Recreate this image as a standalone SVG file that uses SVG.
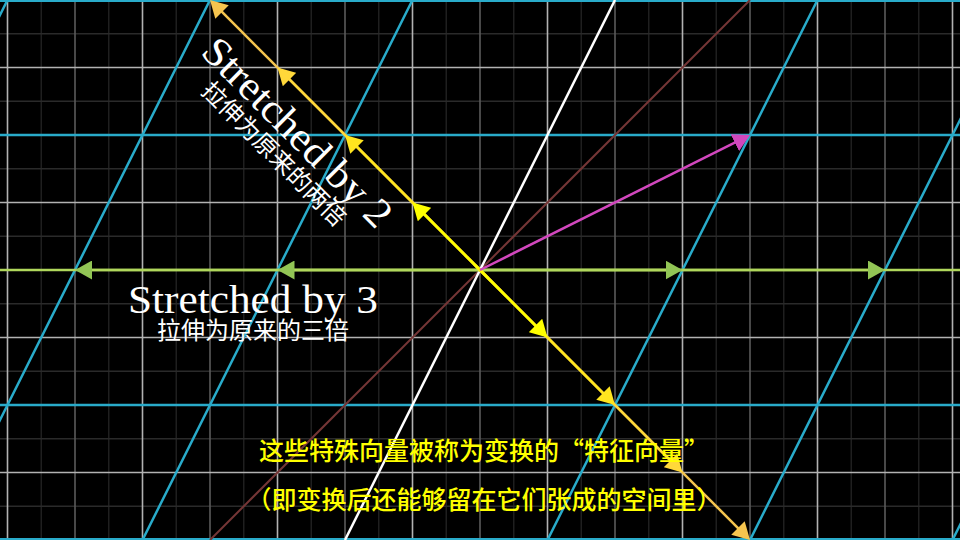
<svg xmlns="http://www.w3.org/2000/svg" width="960" height="540" viewBox="0 0 960 540">
<style>
.bg{fill:#000}
.half{stroke:#1f1f1f;stroke-width:1.5;fill:none}
.halfh{stroke:#2a2a2a;stroke-width:1.5;fill:none}
.med{stroke:#5a5a5a;stroke-width:1.6;fill:none}
.light{stroke:#b2b2b2;stroke-width:1.6;fill:none}
.tgrid{stroke:#29ABCA;stroke-width:2.5;fill:none}
.jaxis{stroke:#ffffff;stroke-width:2.5;fill:none}
.span{stroke:#753636;stroke-width:2;fill:none}
.xaxis{stroke:#B0D75C;stroke-width:2.5;fill:none}
.vec{stroke-width:2.5;fill:none}
.latex{font-family:"Liberation Serif","DejaVu Serif",serif;font-size:41px;fill:#fff}
.cjkw{font-family:"Noto Sans CJK SC",sans-serif;font-size:24px;fill:#fff}
.cjky{font-family:"Noto Sans CJK SC",sans-serif;font-size:25px;font-weight:500;fill:#FFFF00}
</style>
<defs>
<marker id="hY1" markerUnits="userSpaceOnUse" viewBox="0 0 17 19" markerWidth="17" markerHeight="19" refX="5" refY="9.5" orient="auto"><path d="M0,0 L17,9.5 L0,19 z" fill="#FFFF00"/></marker>
<marker id="hY2" markerUnits="userSpaceOnUse" viewBox="0 0 17 19" markerWidth="17" markerHeight="19" refX="5" refY="9.5" orient="auto"><path d="M0,0 L17,9.5 L0,19 z" fill="#FFE51F"/></marker>
<marker id="hY3" markerUnits="userSpaceOnUse" viewBox="0 0 17 19" markerWidth="17" markerHeight="19" refX="5" refY="9.5" orient="auto"><path d="M0,0 L17,9.5 L0,19 z" fill="#FFD83A"/></marker>
<marker id="hY4" markerUnits="userSpaceOnUse" viewBox="0 0 17 19" markerWidth="17" markerHeight="19" refX="5" refY="9.5" orient="auto"><path d="M0,0 L17,9.5 L0,19 z" fill="#F5C54F"/></marker>
<marker id="hG" markerUnits="userSpaceOnUse" viewBox="0 0 17 19" markerWidth="17" markerHeight="19" refX="5" refY="9.5" orient="auto"><path d="M0,0 L17,9.5 L0,19 z" fill="#92C555"/></marker>
<marker id="hP" markerUnits="userSpaceOnUse" viewBox="0 0 17 19" markerWidth="17" markerHeight="19" refX="5" refY="9.5" orient="auto"><path d="M0,0 L17,9.5 L0,19 z" fill="#D147BD"/></marker>
</defs>
<rect class="bg" x="0" y="0" width="960" height="540"/>
<g id="background-grid">
<path class="half" d="M41.25,0V540M108.75,0V540M176.25,0V540M243.75,0V540M311.25,0V540M378.75,0V540M446.25,0V540M513.75,0V540M581.25,0V540M648.75,0V540M716.25,0V540M783.75,0V540M851.25,0V540M918.75,0V540"/>
<path class="halfh" d="M0,33.75H960M0,101.25H960M0,168.75H960M0,236.25H960M0,303.75H960M0,371.25H960M0,438.75H960M0,506.25H960"/>
<path class="med" d="M75,0V540M210,0V540M345,0V540M480,0V540M615,0V540M750,0V540M885,0V540"/>
<path class="light" d="M7.5,0V540M142.5,0V540M277.5,0V540M412.5,0V540M547.5,0V540M682.5,0V540M817.5,0V540M952.5,0V540"/>
<path class="light" d="M0,67.5H960M0,202.5H960M0,337.5H960M0,472.5H960"/>
</g>
<g id="transformed-grid">
<path class="tgrid" d="M0,0.8H960M0,135H960M0,405H960M0,539.2H960"/>
<path class="tgrid" d="M7.5,0L-262.5,540M210,0L-60,540M412.5,0L142.5,540M817.5,0L547.5,540M1020,0L750,540M1222.5,0L952.5,540"/>
</g>
<g id="connectors">
<path id="span-line" class="span" d="M750,0L210,540"/>
<path id="j-axis" class="jaxis" d="M615,0L345,540"/>
<path id="x-axis" class="xaxis" d="M0,270H960"/>
<g id="green-vectors">
<line class="vec" stroke="#B0D75C" x1="480" y1="270" x2="873" y2="270" marker-end="url(#hG)"/>
<line class="vec" stroke="#B0D75C" x1="480" y1="270" x2="670.5" y2="270" marker-end="url(#hG)"/>
<line class="vec" stroke="#B0D75C" x1="480" y1="270" x2="87" y2="270" marker-end="url(#hG)"/>
<line class="vec" stroke="#B0D75C" x1="480" y1="270" x2="289.5" y2="270" marker-end="url(#hG)"/>
</g>
<g id="yellow-vectors">
<line class="vec" stroke="#F5C54F" x1="480" y1="270" x2="218.49" y2="8.49" marker-end="url(#hY4)"/>
<line class="vec" stroke="#F5C54F" x1="480" y1="270" x2="741.51" y2="531.51" marker-end="url(#hY4)"/>
<line class="vec" stroke="#FFD83A" x1="480" y1="270" x2="285.99" y2="75.99" marker-end="url(#hY3)"/>
<line class="vec" stroke="#FFD83A" x1="480" y1="270" x2="674.01" y2="464.01" marker-end="url(#hY3)"/>
<line class="vec" stroke="#FFE51F" x1="480" y1="270" x2="353.49" y2="143.49" marker-end="url(#hY2)"/>
<line class="vec" stroke="#FFE51F" x1="480" y1="270" x2="606.51" y2="396.51" marker-end="url(#hY2)"/>
<line class="vec" stroke="#FFFF00" x1="480" y1="270" x2="420.99" y2="210.99" marker-end="url(#hY1)"/>
<line class="vec" stroke="#FFFF00" x1="480" y1="270" x2="539.01" y2="329.01" marker-end="url(#hY1)"/>
</g>
<line id="pink-vector" class="vec" stroke="#D147BD" x1="480" y1="270" x2="739.27" y2="140.37" marker-end="url(#hP)"/>
</g>
<g id="label-stretch2">
<text class="latex" transform="translate(288,142) rotate(45)" text-anchor="middle" textLength="250" lengthAdjust="spacingAndGlyphs">Stretched by 2</text>
<text class="cjkw" transform="translate(268,160) rotate(45)" text-anchor="middle">拉伸为原来的两倍</text>
</g>
<g id="label-stretch3">
<text class="latex" x="253" y="313" text-anchor="middle" textLength="250" lengthAdjust="spacingAndGlyphs">Stretched by 3</text>
<text class="cjkw" x="253" y="339" text-anchor="middle">拉伸为原来的三倍</text>
</g>
<g id="caption">
<text class="cjky" x="484" y="460" text-anchor="middle">这些特殊向量被称为变换的“特征向量”</text>
<text class="cjky" x="484" y="509" text-anchor="middle">（即变换后还能够留在它们张成的空间里）</text>
</g>
</svg>
